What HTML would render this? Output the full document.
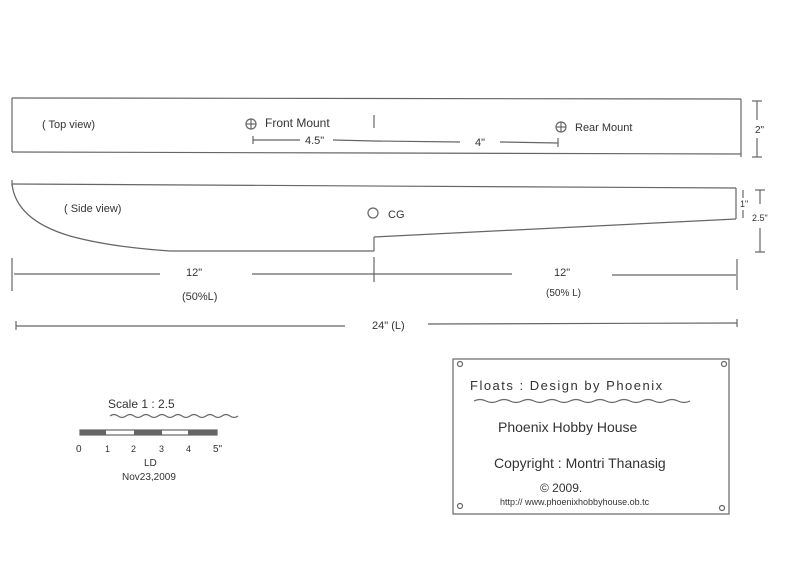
<!DOCTYPE html>
<html><head><meta charset="utf-8"><style>
html,body{margin:0;padding:0;background:#fff;width:800px;height:569px;overflow:hidden}
svg{display:block}
text{font-family:"Liberation Sans",sans-serif;fill:#333}
</style></head><body>
<svg width="800" height="569" viewBox="0 0 800 569" xmlns="http://www.w3.org/2000/svg">
<g stroke="#666" stroke-width="1.2" fill="none">
<line x1="12" y1="98" x2="741" y2="99"/>
<line x1="12" y1="152" x2="741" y2="154"/>
<line x1="12" y1="98" x2="12" y2="152"/>
<line x1="741" y1="99" x2="741" y2="157"/>
<line x1="757" y1="101" x2="757" y2="120"/><line x1="757" y1="138" x2="757" y2="157"/>
<line x1="752" y1="101" x2="762" y2="101"/><line x1="752" y1="157" x2="762" y2="157"/>
<circle cx="251" cy="124" r="5"/><line x1="246" y1="124" x2="256" y2="124"/><line x1="251" y1="119" x2="251" y2="129"/>
<circle cx="561" cy="127" r="5"/><line x1="556" y1="127" x2="566" y2="127"/><line x1="561" y1="122" x2="561" y2="132"/>
<line x1="374" y1="115" x2="374" y2="128"/>
<line x1="253" y1="140" x2="300" y2="140"/><line x1="333" y1="140" x2="374" y2="141"/>
<line x1="374" y1="141" x2="460" y2="142"/><line x1="500" y1="142" x2="558" y2="143"/>
<line x1="253" y1="136" x2="253" y2="144"/><line x1="558" y1="138" x2="558" y2="147"/>
<line x1="12" y1="184" x2="736" y2="188"/>
<line x1="12" y1="180" x2="12" y2="186"/>
<path d="M12 184 Q16 220 70 236 Q110 247 170 251"/>
<line x1="170" y1="251" x2="374" y2="251"/>
<line x1="374" y1="251" x2="374" y2="237"/>
<line x1="374" y1="237" x2="736" y2="219"/>
<line x1="736" y1="188" x2="736" y2="219"/>
<line x1="743" y1="190" x2="743" y2="198"/><line x1="743" y1="210" x2="743" y2="218"/>
<line x1="760" y1="190" x2="760" y2="204"/><line x1="760" y1="228" x2="760" y2="252"/>
<line x1="755" y1="190" x2="765" y2="190"/><line x1="755" y1="252" x2="765" y2="252"/>
<circle cx="373" cy="213" r="5"/>
<line x1="12" y1="258" x2="12" y2="291"/>
<line x1="374" y1="257" x2="374" y2="282"/>
<line x1="737" y1="259" x2="737" y2="290"/>
<line x1="14" y1="274" x2="160" y2="274"/><line x1="252" y1="274" x2="374" y2="274"/>
<line x1="374" y1="274" x2="512" y2="274"/><line x1="612" y1="275" x2="736" y2="275"/>
<line x1="16" y1="326" x2="345" y2="326"/><line x1="428" y1="324" x2="737" y2="323"/>
<line x1="16" y1="321" x2="16" y2="330"/><line x1="737" y1="319" x2="737" y2="327"/>
<rect x="453" y="359" width="276" height="155"/>
<circle cx="460" cy="364" r="2.5"/><circle cx="724" cy="364" r="2.5"/>
<circle cx="460" cy="506" r="2.5"/><circle cx="722" cy="508" r="2.5"/>
<path d="M474 401 q6 -3 12 0 t12 0 t12 0 t12 0 t12 0 t12 0 t12 0 t12 0 t12 0 t12 0 t12 0 t12 0 t12 0 t12 0 t12 0 t12 0 t12 0 t12 0"/>
<path d="M110 416 q4 -3 8 0 t8 0 t8 0 t8 0 t8 0 t8 0 t8 0 t8 0 t8 0 t8 0 t8 0 t8 0 t8 0 t8 0 t8 0 t8 0"/>
<rect x="80" y="430" width="137" height="5"/>
</g>
<g fill="#666"><rect x="80" y="430" width="26" height="5"/><rect x="134" y="430" width="28" height="5"/><rect x="188" y="430" width="29" height="5"/></g>
<g font-size="11">
<text x="42" y="128">( Top  view)</text>
<text x="265" y="127" font-size="12">Front Mount</text>
<text x="305" y="144">4.5"</text>
<text x="475" y="146">4"</text>
<text x="575" y="131">Rear Mount</text>
<text x="755" y="133" font-size="10">2"</text>
<text x="64" y="212">( Side  view)</text>
<text x="388" y="218">CG</text>
<text x="740" y="207" font-size="9">1"</text>
<text x="752" y="221" font-size="9">2.5"</text>
<text x="186" y="276">12"</text>
<text x="554" y="276">12"</text>
<text x="182" y="300">(50%L)</text>
<text x="546" y="296" font-size="10">(50% L)</text>
<text x="372" y="329">24" (L)</text>
<text x="470" y="390" font-size="13" letter-spacing="1.5">Floats  :  Design  by  Phoenix</text>
<text x="498" y="432" font-size="14">Phoenix Hobby House</text>
<text x="494" y="468" font-size="14">Copyright : Montri Thanasig</text>
<text x="540" y="492" font-size="12">© 2009.</text>
<text x="500" y="505" font-size="9">http:// www.phoenixhobbyhouse.ob.tc</text>
<text x="108" y="408" font-size="12">Scale   1 : 2.5</text>
<text x="76" y="452" font-size="10">0</text><text x="105" y="452" font-size="9">1</text>
<text x="131" y="452" font-size="9">2</text><text x="159" y="452" font-size="9">3</text>
<text x="186" y="452" font-size="9">4</text><text x="213" y="452" font-size="10">5"</text>
<text x="144" y="466" font-size="10">LD</text>
<text x="122" y="480" font-size="10">Nov23,2009</text>
</g>
</svg>
</body></html>
